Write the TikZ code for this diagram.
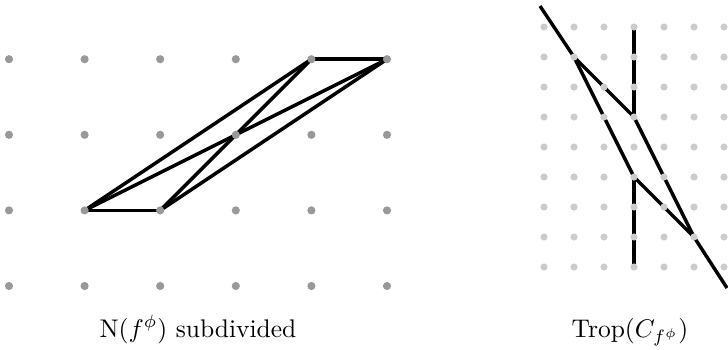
\documentclass[tikz,border=0pt]{standalone}
\begin{document}
\begin{tikzpicture}[x=0.392pt,y=-0.392pt,
  edge/.style={line width=1.35pt},
  ldot/.style={circle,fill=black!40,draw=none,inner sep=0pt,minimum size=3.2pt},
  rdot/.style={circle,fill=black!20,draw=none,inner sep=0pt,minimum size=2.8pt},
  lbl/.style={anchor=base,inner sep=0pt}]
\useasboundingbox (0,0) rectangle (728,349);
% left grid coordinates
\foreach \i in {0,...,5}{\foreach \j in {0,...,3}{
  \coordinate (L\i\j) at ({9+75.6*\i},{286-75.6*\j});}}
% right grid coordinates (row index from top)
\foreach \i in {0,...,6}{\foreach \j in {0,...,8}{
  \coordinate (R\i\j) at ({544+30*\i},{27+30*\j});}}
% left subdivision
\draw[edge] (L11) -- (L21);
\draw[edge] (L43) -- (L53);
\draw[edge] (L11) -- (L43);
\draw[edge] (L21) -- (L53);
\draw[edge] (L11) -- (L32);
\draw[edge] (L21) -- (L32);
\draw[edge] (L32) -- (L43);
\draw[edge] (L32) -- (L53);
% right tropical curve
\coordinate (tl) at (540,6);
\coordinate (br) at (727,288);
\draw[edge] (tl) -- (R11);
\draw[edge] (R11) -- (R33);
\draw[edge] (R11) -- (R35);
\draw[edge] (R33) -- (R57);
\draw[edge] (R35) -- (R57);
\draw[edge] (R30) -- (R33);
\draw[edge] (R35) -- (R38);
\draw[edge] (R57) -- (br);
% dots on top
\foreach \i in {0,...,5}{\foreach \j in {0,...,3}{
  \node[ldot] (dl\i\j) at (L\i\j) {};}}
\foreach \i in {0,...,6}{\foreach \j in {0,...,8}{
  \node[rdot] (dr\i\j) at (R\i\j) {};}}
% labels
\node[lbl] (leftlabel) at (198,337) {N($f^{\phi}$) subdivided};
\node[lbl] (rightlabel) at (630,337) {Trop($C_{f^{\phi}}$)};
\end{tikzpicture}
\end{document}
